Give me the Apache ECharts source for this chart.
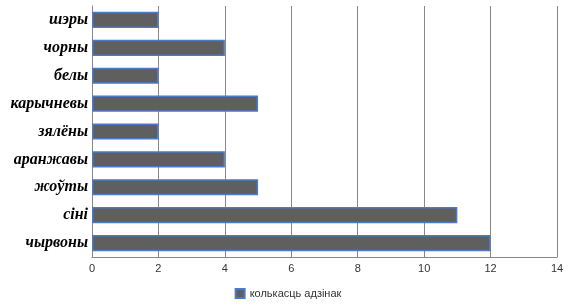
<!DOCTYPE html>
<html>
<head>
<meta charset="utf-8">
<script src="https://cdn.jsdelivr.net/npm/echarts@6/dist/echarts.min.js"></script>
<style>
	html, body { margin: 0; padding: 0; background: #fff; }
	#chart { width: 576px; height: 308px; }
</style>
</head>
<body>
<div id="chart"></div>
<script>
// катэгорыі знізу ўверх (як у восі category)
var categories = ['чырвоны', 'сіні', 'жоўты', 'аранжавы', 'зялёны', 'карычневы', 'белы', 'чорны', 'шэры'];
var counts = [12, 11, 5, 4, 2, 5, 2, 4, 2];
var seriesName = 'колькасць адзінак';

var myChart = echarts.init(document.getElementById('chart'));

var option = {
	animation: false,
	grid: {
		left: 92,
		right: 19,
		top: 6,
		bottom: 51,
		outerBoundsMode: 'none',
		containLabel: false
	},
	legend: {
		bottom: 4,
		left: 'center',
		icon: 'rect',
		itemWidth: 9,
		itemHeight: 9,
		itemGap: 4,
		textStyle: {
			fontFamily: 'Liberation Sans',
			fontSize: 11,
			color: '#333'
		},
		data: [seriesName]
	},
	xAxis: {
		type: 'value',
		min: 0,
		max: 14,
		interval: 2,
		axisLine: { show: true, lineStyle: { color: '#888' } },
		axisTick: { show: false },
		splitLine: { show: true, lineStyle: { color: '#888', width: 1 } },
		axisLabel: {
			margin: 6,
			fontFamily: 'Liberation Sans',
			fontSize: 11,
			color: '#333'
		}
	},
	yAxis: {
		type: 'category',
		data: categories,
		axisLine: { show: true, lineStyle: { color: '#888' } },
		axisTick: { show: false },
		axisLabel: {
			margin: 4,
			fontFamily: 'Liberation Serif',
			fontStyle: 'italic',
			fontWeight: 'bold',
			fontSize: 16,
			color: '#000'
		}
	},
	series: [{
		name: seriesName,
		type: 'bar',
		data: counts,
		barCategoryGap: '42%',
		itemStyle: {
			color: '#5f5f5f',
			borderColor: '#4a7ac8',
			borderWidth: 1.5
		}
	}]
};

myChart.setOption(option);
</script>
</body>
</html>
